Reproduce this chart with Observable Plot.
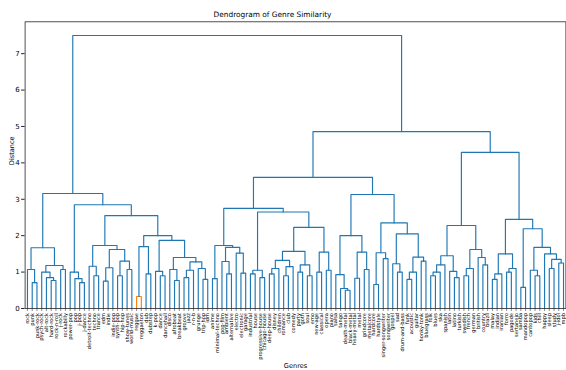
<!DOCTYPE html>
<html><head><meta charset="utf-8">
<script src="https://cdn.jsdelivr.net/npm/d3@7"></script>
<script src="https://cdn.jsdelivr.net/npm/@observablehq/plot@0.6"></script>
<style>body{margin:0;background:#fff;} svg{display:block;}</style>
</head><body><div id="chart"></div>
<script>
// Leaf labels, in dendrogram order
const leaves = ["rock","punk","punk-rock","psych-rock","alt-rock","hard-rock","rock-n-roll","j-rock","rockabilly","power-pop",
"pop","j-pop","j-dance","detroit-techno","techno","trance","edm","indie","indie-pop","synth-pop",
"hip-hop","show-tunes","world-music","reggae","reggaeton","dub","dubstep","k-pop","dance","dancehall",
"disco","afrobeat","breakbeat","groove","jazz","r-n-b","grunge","trip-hop","idm","anime",
"minimal-techno","pop-film","ambient","alternative","electro","electronic","garage","industrial","house","progressive-house",
"chicago-house","deep-house","disney","children","romance","club","comedy","party","goth","soul",
"emo","new-age","classical","opera","piano","salsa","tango","death-metal","black-metal","heavy-metal",
"metal","grindcore","metalcore","hardcore","hardstyle","singer-songwriter","songwriter","gospel","sad","drum-and-bass",
"funk","acoustic","guitar","honky-tonk","bluegrass","folk","blues","ska","spanish","latin",
"latino","turkish","swedish","french","german","british","country","brazil","malay","indian",
"iranian","forro","pagode","sertanejo","samba","mandopop","cantopop","kids","chill","happy",
"sleep","study","j-idol","mpb"];

// Merges: left child = leaves [start .. split-1], right child = leaves [split .. end]
const mergeStart = [1,0,5,4,3,7,3,0,11,10,9,14,13,16,16,19,21,19,16,13,23,25,23,28,27,31,30,33,33,37,36,33,30,27,23,13,9,0,
39,42,41,45,44,41,39,47,49,47,51,51,54,54,51,57,59,57,51,61,63,61,51,47,39,67,66,65,69,71,69,65,73,75,73,78,77,80,80,83,80,77,73,65,39,
85,85,85,90,89,85,92,92,96,95,92,85,98,98,101,101,98,104,107,106,110,112,110,109,106,104,98,85,39,0];
const mergeSplit = [2,1,6,5,4,8,7,3,12,11,10,15,14,17,18,20,22,21,19,16,24,26,25,29,28,32,31,34,35,38,37,36,33,30,27,23,13,9,
40,43,42,46,45,44,41,48,50,49,52,53,55,56,54,58,60,59,57,62,64,63,61,51,47,68,67,66,70,72,71,69,74,76,75,79,78,81,82,84,83,80,77,73,65,
86,87,88,91,90,89,93,94,97,96,95,92,99,100,102,103,101,105,108,107,111,113,112,110,109,106,104,98,85,39];
const mergeEnd = [2,2,6,6,6,8,8,8,12,12,12,15,15,17,18,20,22,22,22,22,24,26,26,29,29,32,32,34,35,38,38,38,38,38,38,38,38,38,
40,43,43,46,46,46,46,48,50,50,52,53,55,56,56,58,60,60,60,62,64,64,64,64,64,68,68,68,70,72,72,72,74,76,76,79,79,81,82,84,84,84,84,84,84,
86,87,88,91,91,91,93,94,97,97,97,97,99,100,102,103,103,105,108,108,111,113,113,113,113,113,113,113,113,113];
const mergeHeight = [0.71,1.07,0.77,0.85,1.0,1.07,1.18,1.67,0.71,0.82,1.0,0.9,1.16,0.75,1.12,0.9,1.07,1.3,1.62,1.73,0.33,0.95,1.7,0.9,1.02,0.77,1.07,0.85,1.05,0.8,1.1,1.28,1.4,1.87,2.0,2.55,2.85,3.16,
0.82,0.95,1.29,0.97,1.52,1.68,1.73,0.95,0.85,1.05,0.95,1.1,0.9,1.15,1.32,1.0,0.9,1.2,1.57,1.0,1.05,1.55,2.23,2.65,2.75,0.5,0.55,0.93,0.83,1.07,1.55,2.0,0.66,1.37,1.53,1.0,1.23,0.8,1.0,1.3,1.41,2.05,2.35,3.13,3.6,
0.9,1.0,1.2,0.85,1.02,1.45,0.9,1.1,1.2,1.4,1.62,2.28,0.8,0.95,1.0,1.1,1.5,0.58,0.9,1.05,1.1,1.25,1.35,1.5,1.68,2.19,2.45,4.29,4.86,7.5];

const colorThreshold = 0.4;
const yTicks = [0,1,2,3,4,5,6,7];
const yMax = 7.875;

// Build node positions (scipy-style leaf coordinates 5, 15, 25, ...)
const nodes = new Map();
leaves.forEach((name, i) => nodes.set(`${i}-${i}`, {x: 5 + 10 * i, h: 0}));
const order = d3.range(mergeStart.length).sort((a, b) =>
  (mergeEnd[a] - mergeStart[a]) - (mergeEnd[b] - mergeStart[b]));
const segs = [];
for (const k of order) {
  const a = mergeStart[k], m = mergeSplit[k], b = mergeEnd[k], h = mergeHeight[k];
  const L = nodes.get(`${a}-${m - 1}`), R = nodes.get(`${m}-${b}`);
  if (!L || !R) { console.error("missing child for merge", k); continue; }
  nodes.set(`${a}-${b}`, {x: (L.x + R.x) / 2, h});
  const color = h < colorThreshold ? "#ff7f0e" : "#1f77b4";
  segs.push({k, x: L.x, y: L.h, color}, {k, x: L.x, y: h, color},
            {k, x: R.x, y: h, color}, {k, x: R.x, y: R.h, color});
}
const leafData = leaves.map((name, i) => ({name, x: 5 + 10 * i}));

const chart = Plot.plot({
  width: 566, height: 370,
  marginLeft: 24.6, marginRight: 0.6, marginTop: 21.3, marginBottom: 62,
  x: {domain: [0, leaves.length * 10], axis: null},
  y: {domain: [0, yMax], axis: null},
  color: {type: "identity"},
  style: {fontFamily: "DejaVu Sans, sans-serif", background: "white", color: "#000"},
  marks: [
    Plot.line(segs, {x: "x", y: "y", z: "k", stroke: "color", strokeWidth: 1.15, curve: "linear"}),
    Plot.frame({stroke: "#262626", strokeWidth: 0.8}),
    Plot.axisY({ticks: yTicks, tickSize: 3.5, tickPadding: 2, fontSize: 7, label: null, stroke: "#262626"}),
    Plot.axisX({ticks: leafData.map(d => d.x), tickSize: 3, tickFormat: () => "", label: null, stroke: "#444", strokeWidth: 0.6}),
    Plot.text(leafData, {x: "x", frameAnchor: "bottom", text: "name", rotate: -90, textAnchor: "end", lineAnchor: "middle", dy: 4.5, fontSize: 5.1, fill: "#000"}),
    Plot.text(["Dendrogram of Genre Similarity"], {frameAnchor: "top", lineAnchor: "middle", dx: -23, dy: -7, fontSize: 7.4, fill: "#000"}),
    Plot.text(["Genres"], {frameAnchor: "bottom", lineAnchor: "middle", dy: 57, fontSize: 6.6, fill: "#000"}),
    Plot.text(["Distance"], {frameAnchor: "left", lineAnchor: "middle", rotate: -90, dx: -13, fontSize: 6.6, fill: "#000"})
  ]
});
document.getElementById("chart").appendChild(chart);
</script>
</body></html>
